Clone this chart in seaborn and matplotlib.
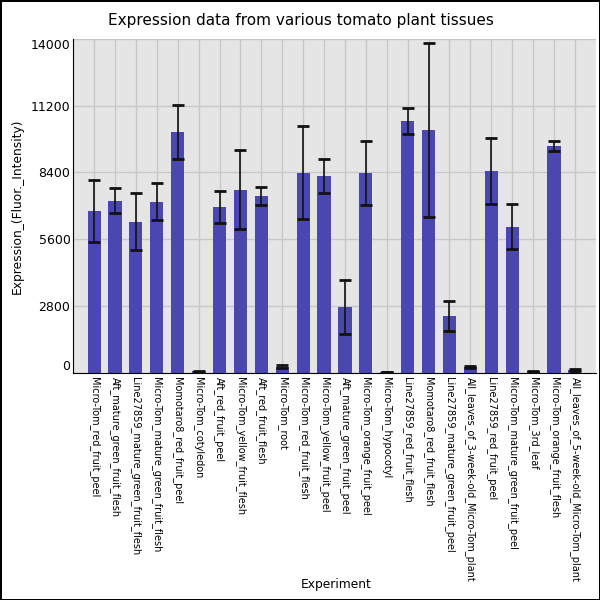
import numpy as np
import pandas as pd
import matplotlib
matplotlib.use("Agg")
import matplotlib.pyplot as plt
import seaborn as sns

# tissues, mean expression and standard deviation
tissues = [
    "Micro-Tom_red_fruit_peel",
    "Aft_mature_green_fruit_flesh",
    "Line27859_mature_green_fruit_flesh",
    "Micro-Tom_mature_green_fruit_flesh",
    "Momotaro8_red_fruit_peel",
    "Micro-Tom_cotyledon",
    "Aft_red_fruit_peel",
    "Micro-Tom_yellow_fruit_flesh",
    "Aft_red_fruit_flesh",
    "Micro-Tom_root",
    "Micro-Tom_red_fruit_flesh",
    "Micro-Tom_yellow_fruit_peel",
    "Aft_mature_green_fruit_peel",
    "Micro-Tom_orange_fruit_peel",
    "Micro-Tom_hypocotyl",
    "Line27859_red_fruit_flesh",
    "Momotaro8_red_fruit_flesh",
    "Line27859_mature_green_fruit_peel",
    "All_leaves_of_3-week-old_Micro-Tom_plant",
    "Line27859_red_fruit_peel",
    "Micro-Tom_mature_green_fruit_peel",
    "Micro-Tom_3rd_leaf",
    "Micro-Tom_orange_fruit_flesh",
    "All_leaves_of_5-week-old_Micro-Tom_plant",
]
means = [6800, 7210, 6330, 7170, 10100, 60, 6950, 7680, 7420, 250,
         8380, 8250, 2760, 8380, 20, 10560, 10200, 2380, 240, 8460,
         6120, 60, 9520, 100]
sds = [1300, 520, 1200, 780, 1130, 25, 660, 1650, 380, 60,
       1950, 730, 1140, 1340, 10, 560, 3650, 620, 55, 1370,
       950, 25, 210, 45]

yticks = [0, 2800, 5600, 8400, 11200, 14000]

df = pd.DataFrame({"Experiment": tissues, "Expression": means})

fig = plt.figure(figsize=(6, 6), dpi=100)
fig.patch.set_edgecolor("black")
fig.patch.set_linewidth(2)
ax = fig.add_axes([0.122, 0.379, 0.871, 0.556])
ax.set_facecolor("#e5e5e5")

sns.barplot(data=df, x="Experiment", y="Expression", color="#4b47b0",
            saturation=1, width=0.63, errorbar=None, ax=ax, zorder=2)
ax.errorbar(np.arange(len(tissues)), means, yerr=sds, fmt="none",
            ecolor="#111111", elinewidth=1.2, capsize=4.5, capthick=2, zorder=3)

ax.set_xlim(-1, len(tissues))
ax.set_ylim(0, 14000)
ax.set_yticks(yticks)
ax.set_yticklabels([str(t) for t in yticks], fontsize=9)
labs = ax.get_yticklabels()
labs[0].set_verticalalignment("bottom")
labs[-1].set_verticalalignment("top")
ax.set_xticks(range(len(tissues)))
ax.set_xticklabels(tissues, rotation=270, fontsize=7, ha="center", va="top")
ax.tick_params(axis="both", length=0, pad=3)
ax.tick_params(axis="y", pad=2)

ax.grid(True, color="#c8c8c8", linewidth=1)
ax.set_axisbelow(True)
for s in ["top", "right"]:
    ax.spines[s].set_visible(False)
ax.spines["left"].set_color("black")
ax.spines["bottom"].set_color("black")

fig.text(0.502, 0.965, "Expression data from various tomato plant tissues",
         fontsize=11, ha="center", va="center")
ax.set_ylabel("Expression_(Fluor._Intensity)", fontsize=8.8)
ax.set_xlabel("Experiment", fontsize=8.8)
ax.xaxis.set_label_coords(0.503, -0.617)
ax.yaxis.set_label_coords(-0.095, 0.5)

fig.savefig("out.png", dpi=100, edgecolor=fig.get_edgecolor())
